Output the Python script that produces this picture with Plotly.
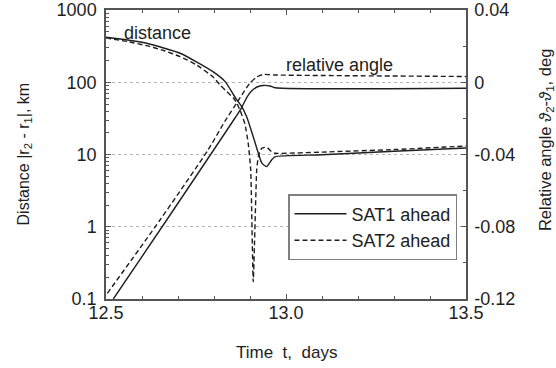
import plotly.graph_objects as go

# ---- data ----
t_dist_sat1 = [12.5, 12.56, 12.613, 12.66, 12.706, 12.75, 12.797, 12.831, 12.858, 12.877,
               12.891, 12.909, 12.923, 12.933, 12.946, 12.96, 12.969, 13.1, 13.3, 13.5]
dist_sat1 = [419, 384, 346, 298, 252, 193, 140, 102, 62.5, 46,
             33, 17.6, 10.5, 7.6, 6.8, 8.4, 9.3, 9.9, 11.1, 12.3]

t_dist_sat2 = [12.5, 12.56, 12.613, 12.66, 12.706, 12.75, 12.797, 12.817, 12.831, 12.854,
               12.863, 12.872, 12.886, 12.895, 12.902, 12.909, 12.9186, 12.9231, 12.9325,
               12.9464, 12.9603, 12.9694, 13.1, 13.3, 13.5]
dist_sat2 = [410, 366, 321, 275, 226, 176, 119, 91.6, 78, 60.5,
             51.6, 41.3, 26.4, 14.4, 6.1, 0.1735, 6.1, 9.3, 12.2,
             12.6, 10.9, 10.4, 10.8, 11.7, 13.1]

t_ang_sat1 = [12.5203, 12.6686, 12.8167, 12.8583, 12.8769, 12.8917, 12.9056, 12.9194,
              12.9361, 12.9556, 12.9694, 13.5]
ang_sat1 = [-0.1200, -0.07626, -0.03225, -0.0198, -0.0140, -0.00817, -0.00457, -0.00263,
            -0.00180, -0.00207, -0.00301, -0.00335]

t_ang_sat2 = [12.5036, 12.65, 12.7833, 12.8306, 12.863, 12.8806, 12.9, 12.9186,
              12.9361, 12.9694, 13.5]
ang_sat2 = [-0.1169, -0.07626, -0.03751, -0.0215, -0.01149, -0.0060, -0.00042, 0.00291,
            0.00429, 0.00401, 0.00319]

x_ticks = [12.5, 13.0, 13.5]
x_ticktext = ["12.5", "13.0", "13.5"]
y_ticks = [0.1, 1, 10, 100, 1000]
y_ticktext = ["0.1", "1", "10", "100", "1000"]
y2_ticks = [-0.12, -0.08, -0.04, 0, 0.04]
y2_ticktext = ["-0.12", "-0.08", "-0.04", "0", "0.04"]

FONT = "Liberation Sans, Arial, sans-serif"
INK = "#1e1e1e"
FRAME = "#555555"
DASH = "5px,3px"
LW = 1.4
FS = 18

fig = go.Figure()
fig.add_trace(go.Scatter(x=t_dist_sat1, y=dist_sat1, mode="lines", name="SAT1 ahead",
                         line=dict(color=INK, width=LW, shape="spline", smoothing=0.6),
                         showlegend=True))
fig.add_trace(go.Scatter(x=t_dist_sat2, y=dist_sat2, mode="lines", name="SAT2 ahead",
                         line=dict(color=INK, width=LW, dash=DASH, shape="spline", smoothing=0.4),
                         showlegend=True))
fig.add_trace(go.Scatter(x=t_ang_sat1, y=ang_sat1, mode="lines", name="SAT1 ahead",
                         line=dict(color=INK, width=LW, shape="spline", smoothing=0.6),
                         yaxis="y2", showlegend=False))
fig.add_trace(go.Scatter(x=t_ang_sat2, y=ang_sat2, mode="lines", name="SAT2 ahead",
                         line=dict(color=INK, width=LW, dash=DASH, shape="spline", smoothing=0.6),
                         yaxis="y2", showlegend=False))

minor_log = [m * 10 ** e for e in (-1, 0, 1, 2) for m in range(2, 10)]

fig.update_layout(
    width=556, height=368,
    margin=dict(l=106, r=90, t=10, b=69, autoexpand=False),
    paper_bgcolor="white", plot_bgcolor="white",
    font=dict(family=FONT, size=FS, color=INK),
    xaxis=dict(range=[12.5, 13.5], tickmode="array", tickvals=x_ticks, ticktext=x_ticktext,
               ticks="inside", ticklen=5, tickcolor=FRAME, mirror="ticks", automargin=False,
               ticklabelstandoff=-3,
               showline=True, linecolor=FRAME, linewidth=1.5, showgrid=False, zeroline=False,
               minor=dict(dtick=0.1, tick0=12.5, ticks="inside", ticklen=3, tickcolor=FRAME, showgrid=False)),
    yaxis=dict(type="log", range=[-1, 3], tickmode="array", tickvals=y_ticks, ticktext=y_ticktext,
               ticks="inside", ticklen=5, tickcolor=FRAME, mirror=True, automargin=False,
               ticklabelstandoff=4,
               showline=True, linecolor=FRAME, linewidth=1.5,
               showgrid=True, gridcolor="#b5b5b5", gridwidth=1, griddash="dot", zeroline=False,
               minor=dict(tickmode="array", tickvals=minor_log, ticks="inside", ticklen=3,
                          tickcolor=FRAME, showgrid=False)),
    yaxis2=dict(overlaying="y", side="right", range=[-0.12, 0.04], tickmode="array",
                tickvals=y2_ticks, ticktext=y2_ticktext, ticks="inside", ticklen=5, tickcolor=FRAME,
                automargin=False, ticklabelstandoff=3,
                showline=True, linecolor=FRAME, linewidth=1.5, showgrid=False, zeroline=False,
                minor=dict(tickmode="array", tickvals=[-0.10, -0.06, -0.02, 0.02], ticks="inside",
                           ticklen=3, tickcolor=FRAME, showgrid=False)),
    legend=dict(x=0.975, xanchor="right", y=0.363, yanchor="top", bgcolor="white",
                bordercolor="#808080", borderwidth=1.5, font=dict(size=FS), itemwidth=52),
    annotations=[
        dict(text="distance", x=0.1444, y=0.9204, xref="paper", yref="paper",
             xanchor="center", yanchor="middle", showarrow=False, font=dict(size=FS)),
        dict(text="relative angle", x=0.6478, y=0.8097, xref="paper", yref="paper",
             xanchor="center", yanchor="middle", showarrow=False, font=dict(size=FS)),
        dict(text="Time\u00a0\u00a0t,\u00a0\u00a0days", x=0.5, y=-0.1834, xref="paper", yref="paper",
             xanchor="center", yanchor="middle", showarrow=False, font=dict(size=17)),
        dict(text="Distance |r<sub>2</sub> - r<sub>1</sub>|, km", x=-0.2278, y=0.5035,
             xref="paper", yref="paper", textangle=-90, xanchor="center", yanchor="middle",
             showarrow=False, font=dict(size=16)),
        dict(text="Relative angle <i>\u03d1</i><sub>2</sub>-<i>\u03d1</i><sub>1</sub>, deg",
             x=1.2222, y=0.55, xref="paper", yref="paper", textangle=-90,
             xanchor="center", yanchor="middle", showarrow=False, font=dict(size=16.5)),
    ],
)

fig.write_html("out.html")
